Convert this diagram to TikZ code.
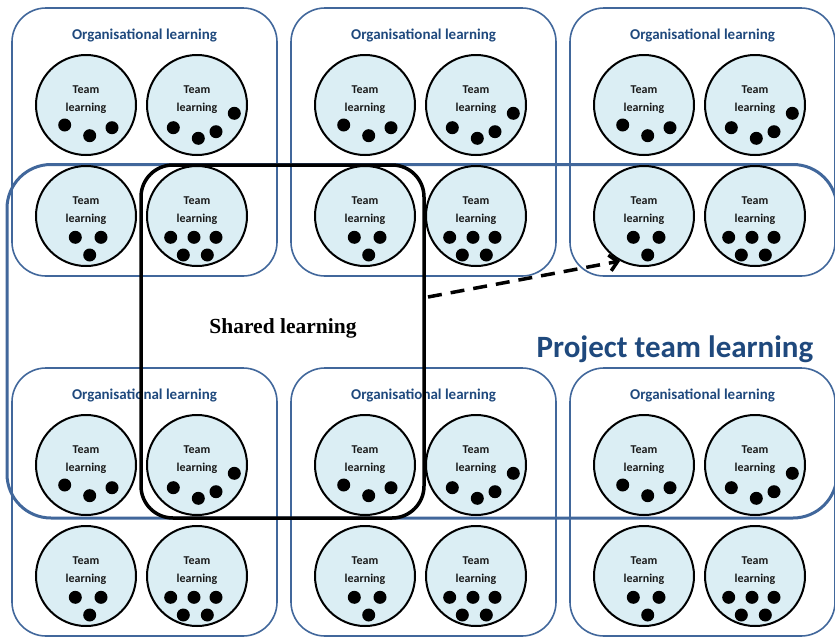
\documentclass[tikz,border=0pt]{standalone}
\usepackage{fontspec}
\setmainfont{Carlito}
\newfontfamily\timesf{Liberation Serif}
\usetikzlibrary{arrows.meta}
\definecolor{orgblue}{HTML}{41679B}
\definecolor{titleblue}{HTML}{1F497D}
\definecolor{circfill}{HTML}{DBEEF4}
\definecolor{teamtxt}{HTML}{1A1A1A}
\tikzset{
  orgbox/.style={draw=orgblue, line width=1.6pt, rounded corners=34pt},
  projbox/.style={draw=orgblue, line width=3pt, rounded corners=44pt},
  sharedbox/.style={draw=black, line width=3.5pt, rounded corners=32pt},
  teamcirc/.style={circle, draw=black, line width=2pt, fill=circfill, minimum size=100pt, inner sep=0pt},
  teamtext/.style={font=\bfseries\fontsize{12}{14}\selectfont, text=teamtxt, inner sep=0pt, anchor=base},
  orgtitle/.style={font=\bfseries\fontsize{15}{18}\selectfont, text=titleblue, inner sep=0pt, anchor=base},
  projtitle/.style={font=\bfseries\fontsize{31}{34}\selectfont, text=titleblue, inner sep=0pt, anchor=base},
  sharedtitle/.style={font=\timesf\bfseries\fontsize{21.5}{24}\selectfont, text=black, inner sep=0pt},
  dashedarrow/.style={draw=black, line width=3.5pt, dash pattern=on 14pt off 9pt, -{Straight Barb[length=8pt,width=16pt]}},
}
\newcommand\dotsetA[2]{\foreach \dx/\dy in {-21.3/20,3.7/30.7,26/22.7}{\fill ({#1+\dx},{#2+\dy}) circle[radius=6.5pt];}}
\newcommand\dotsetB[2]{\foreach \dx/\dy in {-23.7/22.7,1.3/33.3,19/26.7,37.3/8.3}{\fill ({#1+\dx},{#2+\dy}) circle[radius=6.5pt];}}
\newcommand\dotsetC[2]{\foreach \dx/\dy in {-10.7/21.3,15/21.3,3.7/39}{\fill ({#1+\dx},{#2+\dy}) circle[radius=6.5pt];}}
\newcommand\dotsetD[2]{\foreach \dx/\dy in {-26.3/21.3,-3/21.3,19/21.3,-13.7/39,10.3/39}{\fill ({#1+\dx},{#2+\dy}) circle[radius=6.5pt];}}
\newcommand\teamlabel[2]{%
  \node[teamtext] at ({#1},{#2-12}) {Team};
  \node[teamtext] at ({#1},{#2+6}) {learning};}
\begin{document}
\begin{tikzpicture}[x=1pt,y=-1pt]
\useasboundingbox (0,0) rectangle (835,640);
% organisational boxes
\foreach \bx/\by/\n in {12/8/a,291/8/b,570/8/c,12/368/d,291/368/e,570/368/f}{
  \draw[orgbox] (\bx,\by) rectangle ++(265,268);
  \node[orgtitle] (t\n) at ({\bx+132.5},{\by+31}) {Organisational learning};
}
% project team box
\draw[projbox] (7,164.5) rectangle (837,518);
% team circles
\foreach \bx/\by/\n in {12/8/a,291/8/b,570/8/c,12/368/d,291/368/e,570/368/f}{
  \node[teamcirc] (c\n1) at ({\bx+74},{\by+97}) {};
  \node[teamcirc] (c\n2) at ({\bx+185},{\by+97}) {};
  \node[teamcirc] (c\n3) at ({\bx+74},{\by+208}) {};
  \node[teamcirc] (c\n4) at ({\bx+185},{\by+208}) {};
  \teamlabel{\bx+74}{\by+97}
  \teamlabel{\bx+185}{\by+97}
  \teamlabel{\bx+74}{\by+208}
  \teamlabel{\bx+185}{\by+208}
  \dotsetA{\bx+74}{\by+97}
  \dotsetB{\bx+185}{\by+97}
  \dotsetC{\bx+74}{\by+208}
  \dotsetD{\bx+185}{\by+208}
}
% shared learning box
\draw[sharedbox] (141,165) rectangle (424,518);
\node[sharedtitle] (shared) at (283,328) {Shared learning};
\node[projtitle] (proj) at (675,357) {Project team learning};
% arrow
\coordinate (astart) at (428,297);
\draw[dashedarrow] (astart) -- (cc3.242);
\end{tikzpicture}
\end{document}
